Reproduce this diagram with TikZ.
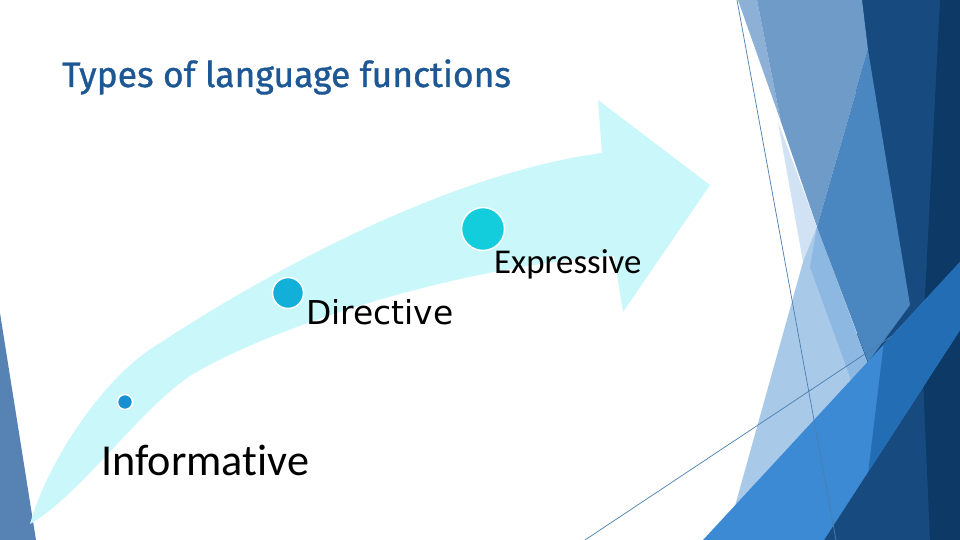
\documentclass[tikz,border=0pt]{standalone}
\usepackage{fontspec}
\newfontfamily\titlefont[FakeBold=1]{Fira Sans}
\newfontfamily\calfont[Ligatures={NoCommon}]{Carlito}
\newfontfamily\dvfont{DejaVu Sans}
\definecolor{band}{HTML}{C9F7FA}
\definecolor{titleblue}{HTML}{1D5894}
\definecolor{navyA}{HTML}{174B80}
\definecolor{navyB}{HTML}{0D3967}
\definecolor{steelA}{HTML}{6F9BC8}
\definecolor{steelL}{HTML}{8CB0D6}
\definecolor{paleB}{HTML}{D0E2F3}
\definecolor{lightD}{HTML}{A9C9E9}
\definecolor{lightC}{HTML}{8DB8E2}
\definecolor{medB}{HTML}{4A87C0}
\definecolor{brightE}{HTML}{3B8AD3}
\definecolor{darkE}{HTML}{236DB5}
\definecolor{leftbar}{HTML}{5683B4}
\definecolor{thinline}{HTML}{4A7FAE}
\definecolor{dotA}{HTML}{1690D2}
\definecolor{dotB}{HTML}{12B0D8}
\definecolor{dotC}{HTML}{14CDDC}
\tikzset{
  thin line/.style={draw=thinline, line width=0.7pt},
  dot/.style={circle, draw=white, line width=1.5pt, inner sep=0pt},
  label text/.style={inner sep=0pt, anchor=base west, text=black}
}
\begin{document}
\begin{tikzpicture}[x=1pt,y=-1pt]
\useasboundingbox (0,0) rectangle (960,540);
\fill[white] (0,0) rectangle (960,540);
\begin{scope}
\clip (0,0) rectangle (960,540);
% right facets
\fill[navyA] (850,0) -- (960,0) -- (960,540) -- (780,540) -- (870,300) -- cycle;
\fill[navyB] (940,0) -- (960,0) -- (960,540) -- (930,540) -- (922,355) -- cycle;
\fill[steelL] (738,0) -- (757,0) -- (781,122) -- cycle;
\fill[steelA] (757,0) -- (862,0) -- (868,50) -- (817,227) -- (781,122) -- cycle;
\fill[paleB] (778,122) -- (817,227) -- (806,268) -- (803,262) -- cycle;
\fill[lightD] (803,262) -- (817,227) -- (868,364) -- (735,506) -- cycle;
\fill[lightC] (817,227) -- (868,364) -- (851,380) -- (810,267) -- cycle;
\fill[medB] (868,50) -- (817,227) -- (868,362) -- (910,305) -- cycle;
\fill[brightE] (703,540) -- (960,262) -- (960,330) -- (824,540) -- cycle;
\begin{scope}
\clip (703,540) -- (960,262) -- (960,330) -- (824,540) -- cycle;
\fill[darkE] (895,250) -- (960,250) -- (960,540) -- (860,540) -- cycle;
\end{scope}
% left bar
\fill[leftbar] (0,313) -- (36,540) -- (0,540) -- cycle;
% thin lines
\coordinate (l1a) at (737,0);
\coordinate (l1b) at (836,540);
\coordinate (l2a) at (585,540);
\coordinate (l2b) at (892,336);
\draw[thin line] (l1a) -- (l1b);
\draw[thin line] (l2a) -- (l2b);
\end{scope}
% curved arrow
\fill[band] (30,524) .. controls (48,460) and (105,375) .. (160,343)
  .. controls (290,258) and (460,172) .. (602,153)
  -- (598,100) -- (710,185) -- (623,312) -- (614,256)
  .. controls (470,265) and (290,320) .. (200,370)
  .. controls (145,400) and (85,492) .. (30,524) -- cycle;
% dots
\node[dot, fill=dotA, minimum size=15pt] (d1) at (125,402) {};
\node[dot, fill=dotB, minimum size=31pt] (d2) at (288,293) {};
\node[dot, fill=dotC, minimum size=43pt] (d3) at (483,229) {};
% texts
\node[inner sep=0pt, anchor=base west, text=titleblue, font=\titlefont\fontsize{35.5}{42}\selectfont] (title) at (62,87) {Types of language functions};
\node[label text, font=\calfont\fontsize{44.2}{50}\selectfont] (t1) at (101,475) {Informative};
\node[label text, font=\dvfont\fontsize{32.9}{38}\selectfont] (t2) at (306,324) {Directive};
\node[label text, font=\calfont\fontsize{34.8}{40}\selectfont] (t3) at (494,273) {Expressive};
\end{tikzpicture}
\end{document}
